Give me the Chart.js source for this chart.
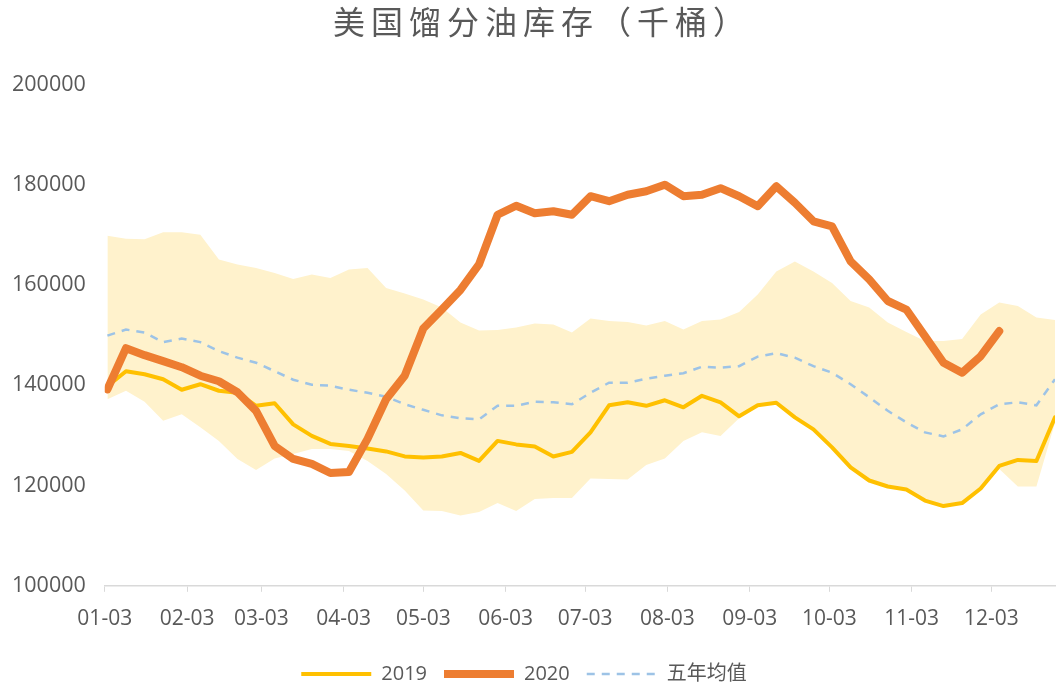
<!DOCTYPE html>
<html>
<head>
<meta charset="utf-8">
<script src="https://cdn.jsdelivr.net/npm/chart.js@4.4.1/dist/chart.umd.min.js"></script>
<style>
  html, body { margin: 0; padding: 0; background: #fff; }
  #box { width: 1060px; height: 686px; }
</style>
</head>
<body>
<div id="box"><canvas class="grafica"></canvas></div>
<script>
// semanas (fecha del dato) y etiquetas del eje x
const semanas = ["01-04","01-11","01-18","01-25","02-01","02-08","02-15","02-22","03-01","03-08",
    "03-15","03-22","03-29","04-05","04-12","04-19","04-26","05-03","05-10","05-17",
    "05-24","05-31","06-07","06-14","06-21","06-28","07-05","07-12","07-19","07-26",
    "08-02","08-09","08-16","08-23","08-30","09-06","09-13","09-20","09-27","10-04",
    "10-11","10-18","10-25","11-01","11-08","11-15","11-22","11-29","12-06","12-13",
    "12-20","12-27"];
const etiquetasX = ["01-03","02-03","03-03","04-03","05-03","06-03","07-03","08-03","09-03","10-03","11-03","12-03"];

const datos2019 = [139800,142800,142200,141200,139100,140200,138900,138500,135900,136400,
    132200,129900,128300,127900,127400,126800,125800,125600,125800,126500,
    124900,128900,128200,127800,125800,126700,130600,136000,136600,135900,
    137000,135600,137900,136600,133800,136000,136500,133600,131200,127600,
    123600,121000,119800,119200,117000,115900,116500,119400,123900,125100,
    124900,133600];
const datos2020 = [139200,147400,146000,144800,143600,141900,140800,138600,134900,127900,
    125300,124300,122500,122700,129300,137200,141900,151300,155100,159000,
    164100,174000,175800,174300,174700,174000,177700,176700,178000,178700,
    180000,177700,178000,179300,177700,175700,179700,176400,172700,171700,
    164700,161100,156800,155100,149800,144500,142500,145800,150800];
const promedio5 = [149900,151100,150500,148600,149300,148600,146800,145500,144500,142800,
    141100,140100,139900,139100,138500,137700,136200,135100,134000,133400,
    133200,135900,135900,136700,136600,136200,138500,140500,140500,141300,
    141900,142400,143700,143500,143800,145700,146400,145500,143800,142500,
    140200,137600,134900,132600,130600,129800,131200,134200,136200,136600,
    136000,141200];
const rangoMax = [169800,169200,169100,170500,170500,170000,165100,164100,163400,162400,
    161200,162100,161400,163100,163400,159400,158300,157100,155500,152500,
    150900,151000,151500,152300,152100,150500,153300,152800,152600,151900,
    152800,151100,152800,153100,154600,158100,162700,164700,162700,160400,
    156800,155500,152500,150600,148800,148800,149200,154100,156500,155800,
    153500,153000];
const rangoMin = [137200,138900,136700,132900,134200,131600,128900,125300,123100,125400,
    126300,127300,127300,126900,124900,122300,119000,115000,114900,114000,
    114700,116500,114900,117300,117500,117500,121400,121300,121200,124100,
    125400,128900,130600,129900,133400,135800,136300,133400,131000,127400,
    123400,120800,119600,119000,116800,115700,116300,119200,123300,119800,
    119800,132500];

// dias contados desde el 3 de enero
function dia(mmdd) {
    const m = parseInt(mmdd.slice(0, 2), 10) - 1;
    const d = parseInt(mmdd.slice(3), 10);
    return (Date.UTC(2019, m, d) - Date.UTC(2019, 0, 3)) / 86400000;
}
const xs = semanas.map(dia);
const ticksX = etiquetasX.map(dia);
const puntos = (serie) => serie.map((v, i) => ({ x: xs[i], y: v }));

const gris = "#595959";
const fuente = "'Open Sans', 'Noto Sans CJK SC', sans-serif";

// un poco de espacio entre letras solo para el titulo
const espaciadoTitulo = {
    id: "espaciadoTitulo",
    afterInit(chart) {
        const t = chart.titleBlock;
        if (!t) return;
        const dibujar = t.draw.bind(t);
        t.draw = function () {
            chart.ctx.save();
            chart.ctx.letterSpacing = "6px";
            chart.ctx.translate(18, 0);
            dibujar();
            chart.ctx.restore();
        };
    }
};

const data = {
    datasets: [{
        label: "2019",
        data: puntos(datos2019),
        borderColor: "#FFC000",
        backgroundColor: "#FFC000",
        borderWidth: 4,
        borderCapStyle: "round",
        borderJoinStyle: "round",
        pointRadius: 0,
        order: 1
    }, {
        label: "2020",
        data: puntos(datos2020),
        borderColor: "#ED7D31",
        backgroundColor: "#ED7D31",
        borderWidth: 8,
        borderCapStyle: "round",
        borderJoinStyle: "round",
        pointRadius: 0,
        order: 0
    }, {
        label: "五年均值",
        data: puntos(promedio5),
        borderColor: "#9DC3E6",
        backgroundColor: "#9DC3E6",
        borderWidth: 2.5,
        borderDash: [8, 7],
        pointRadius: 0,
        order: 2
    }, {
        label: "max",
        data: puntos(rangoMax),
        borderWidth: 0,
        borderColor: "rgba(0,0,0,0)",
        backgroundColor: "#FFF2CC",
        fill: "+1",
        pointRadius: 0,
        order: 3
    }, {
        label: "min",
        data: puntos(rangoMin),
        borderWidth: 0,
        borderColor: "rgba(0,0,0,0)",
        backgroundColor: "#FFF2CC",
        fill: false,
        pointRadius: 0,
        order: 4
    }]
};

const config = {
    type: "line",
    data: data,
    plugins: [espaciadoTitulo],
    options: {
        responsive: true,
        maintainAspectRatio: false,
        animation: false,
        layout: { padding: { left: -7, right: 5, top: 0, bottom: -8 } },
        scales: {
            x: {
                type: "linear",
                min: 0,
                max: 358,
                afterBuildTicks: (scale) => {
                    scale.ticks = ticksX.map(v => ({ value: v }));
                },
                ticks: {
                    autoSkip: false,
                    maxRotation: 0,
                    padding: 15,
                    color: gris,
                    font: { family: fuente, size: 21 },
                    callback: (value, index) => etiquetasX[index]
                },
                grid: {
                    drawOnChartArea: false,
                    drawTicks: true,
                    tickLength: 6,
                    color: "#D9D9D9"
                },
                border: { display: true, color: "#D9D9D9", width: 1.5 }
            },
            y: {
                min: 100000,
                max: 200000,
                ticks: {
                    stepSize: 20000,
                    padding: 19,
                    color: gris,
                    font: { family: fuente, size: 21.5 },
                    callback: (value) => String(value)
                },
                grid: { display: false, drawTicks: false },
                border: { display: false }
            }
        },
        plugins: {
            title: {
                display: true,
                text: "美国馏分油库存（千桶）",
                color: gris,
                font: { family: "'Noto Sans CJK SC', sans-serif", size: 32, weight: "normal" },
                padding: { top: 3, bottom: 43 }
            },
            legend: {
                position: "bottom",
                labels: {
                    usePointStyle: true,
                    pointStyle: "line",
                    pointStyleWidth: 70,
                    padding: 17,
                    color: gris,
                    font: { family: fuente, size: 20 },
                    generateLabels: (chart) => {
                        const items = Chart.defaults.plugins.legend.labels.generateLabels(chart);
                        items.forEach(it => {
                            const ds = chart.data.datasets[it.datasetIndex];
                            it.lineDash = ds.borderDash || [];
                            it.lineWidth = ds.borderWidth;
                        });
                        return items;
                    },
                    filter: (item) => item.datasetIndex < 3,
                    sort: (a, b) => a.datasetIndex - b.datasetIndex
                }
            },
            tooltip: { enabled: false }
        }
    }
};

const ctx = document.querySelector(".grafica");
const grafica = new Chart(ctx, config);
</script>
</body>
</html>
